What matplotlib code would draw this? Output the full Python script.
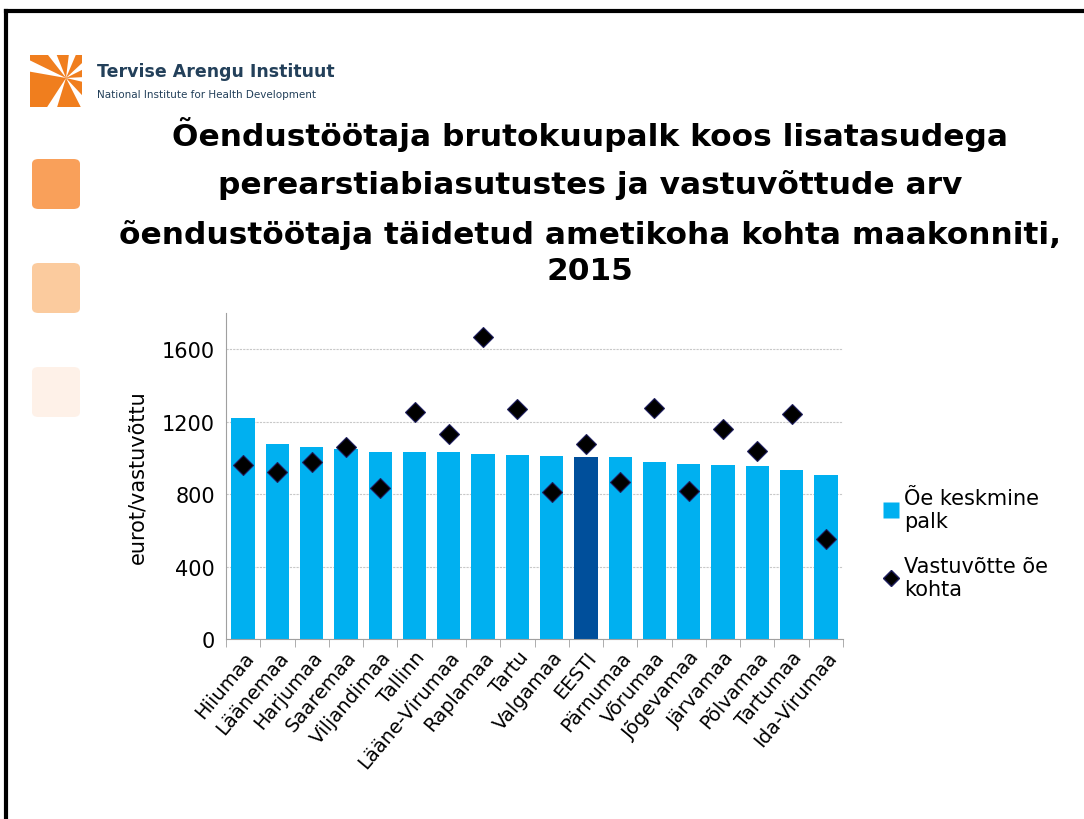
import numpy as np
import matplotlib.pyplot as plt
from matplotlib.patches import FancyBboxPatch, Polygon, Rectangle
from matplotlib.lines import Line2D

# andmed
maakonnad = ['Hiiumaa', 'Läänemaa', 'Harjumaa', 'Saaremaa', 'Viljandimaa', 'Tallinn',
             'Lääne-Virumaa', 'Raplamaa', 'Tartu', 'Valgamaa', 'EESTI', 'Pärnumaa',
             'Võrumaa', 'Jõgevamaa', 'Järvamaa', 'Põlvamaa', 'Tartumaa', 'Ida-Virumaa']
palk = [1220, 1075, 1060, 1050, 1035, 1033, 1030, 1020, 1015, 1013, 1005, 1005,
        980, 965, 962, 955, 935, 905]
vastuvotud = [960, 920, 980, 1060, 835, 1255, 1130, 1670, 1270, 810, 1075, 865,
              1275, 815, 1160, 1040, 1245, 550]
yticks = [0, 400, 800, 1200, 1600]
pealkiri = ['Õendustöötaja brutokuupalk koos lisatasudega',
            'perearstiabiasutustes ja vastuvõttude arv',
            'õendustöötaja täidetud ametikoha kohta maakonniti,',
            '2015']

fig = plt.figure(figsize=(10.84, 8.2), dpi=100)
W, H = 1084, 820

def fx(px):
    return px / W

def fy(py):
    return 1 - py / H

# logo: oranž ruut valgete kiirtega
fig.add_artist(Rectangle((fx(30), fy(108)), fx(52), 52 / H, facecolor='#F07E1E', edgecolor='none'))
cx, cy = 66, 79
for ang in [198, 240, 285, 325, 5, 55, 115]:
    a = np.deg2rad(ang)
    a1, a2 = a - 0.14, a + 0.14
    r1 = 60
    pts = [(cx, cy), (cx + r1 * np.cos(a1), cy + r1 * np.sin(a1)),
           (cx + r1 * np.cos(a2), cy + r1 * np.sin(a2))]
    fig.add_artist(Polygon([(fx(q[0]), fy(q[1])) for q in pts], closed=True,
                           facecolor='white', edgecolor='none'))
# katame kiirte otsad väljaspool ruutu
fig.add_artist(Rectangle((fx(0), fy(140)), fx(29), 100 / H, facecolor='white', edgecolor='none'))
fig.add_artist(Rectangle((fx(83), fy(140)), fx(12), 100 / H, facecolor='white', edgecolor='none'))
fig.add_artist(Rectangle((fx(20), fy(140)), fx(80), 32 / H, facecolor='white', edgecolor='none'))
fig.add_artist(Rectangle((fx(20), fy(55)), fx(80), 25 / H, facecolor='white', edgecolor='none'))
fig.text(fx(97), fy(72), 'Tervise Arengu Instituut', fontsize=12.5, fontweight='bold',
         color='#23405A', va='center', ha='left')
fig.text(fx(97), fy(95), 'National Institute for Health Development', fontsize=7.5,
         color='#23405A', va='center', ha='left')

# slaidi raam
fig.add_artist(Line2D([fx(6), fx(1084)], [fy(12), fy(12)], color='black', lw=3))
fig.add_artist(Line2D([fx(6), fx(6)], [fy(12), fy(820)], color='black', lw=3))

# dekoratiivsed ruudud
for top, col in [(160, '#F9A05A'), (264, '#FBCB9E'), (368, '#FEF1E8')]:
    fig.add_artist(FancyBboxPatch((fx(32), fy(top + 50)), fx(48), 50 / H,
                                  boxstyle='round,pad=0,rounding_size=0.006',
                                  facecolor=col, edgecolor='none'))

# pealkiri
for rida, yp in zip(pealkiri, [135, 185, 235, 272]):
    fig.text(fx(590), fy(yp), rida, fontsize=22.5, fontweight='bold', ha='center', va='center')

ax = fig.add_axes([fx(226), fy(640), fx(843) - fx(226), (640 - 314) / H])
x = np.arange(len(maakonnad))
colors = ['#004F9B' if m == 'EESTI' else '#00B0F0' for m in maakonnad]
ax.bar(x, palk, width=0.68, color=colors, zorder=2)
ax.plot(x, vastuvotud, linestyle='none', marker='D', markersize=10,
        markerfacecolor='black', markeredgecolor='#1F1F5F', markeredgewidth=0.8, zorder=3)

ax.set_xlim(-0.5, len(maakonnad) - 0.5)
ax.set_ylim(0, 1800)
ax.set_yticks(yticks)
ax.tick_params(axis='y', labelsize=15, length=0, pad=8)
ax.yaxis.grid(True, color='#C8C8C8', linestyle=(0, (2, 1)), linewidth=0.8, zorder=0)
ax.set_xticks(x)
ax.set_xticklabels(maakonnad, rotation=50, ha='right', rotation_mode='anchor', fontsize=14)
ax.tick_params(axis='x', length=0, pad=6)
ax.set_xticks(np.arange(-0.5, len(maakonnad)), minor=True)
ax.tick_params(axis='x', which='minor', length=6, color='#A0A0A0')
for s in ['top', 'right']:
    ax.spines[s].set_visible(False)
for s in ['left', 'bottom']:
    ax.spines[s].set_color('#A0A0A0')
ax.set_ylabel('eurot/vastuvõttu', fontsize=15, labelpad=10)

# legend
leg = fig.legend(handles=[
    Line2D([], [], linestyle='none', marker='s', markersize=11, markerfacecolor='#00B0F0',
           markeredgecolor='none', label='Õe keskmine\npalk'),
    Line2D([], [], linestyle='none', marker='D', markersize=8, markerfacecolor='black',
           markeredgecolor='#1F1F5F', label='Vastuvõtte õe\nkohta')],
    loc='upper left', bbox_to_anchor=(fx(862), fy(470)), frameon=False, fontsize=15,
    handletextpad=0.1, handlelength=1.0, labelspacing=1.2)

fig.savefig('out.png', dpi=100)
